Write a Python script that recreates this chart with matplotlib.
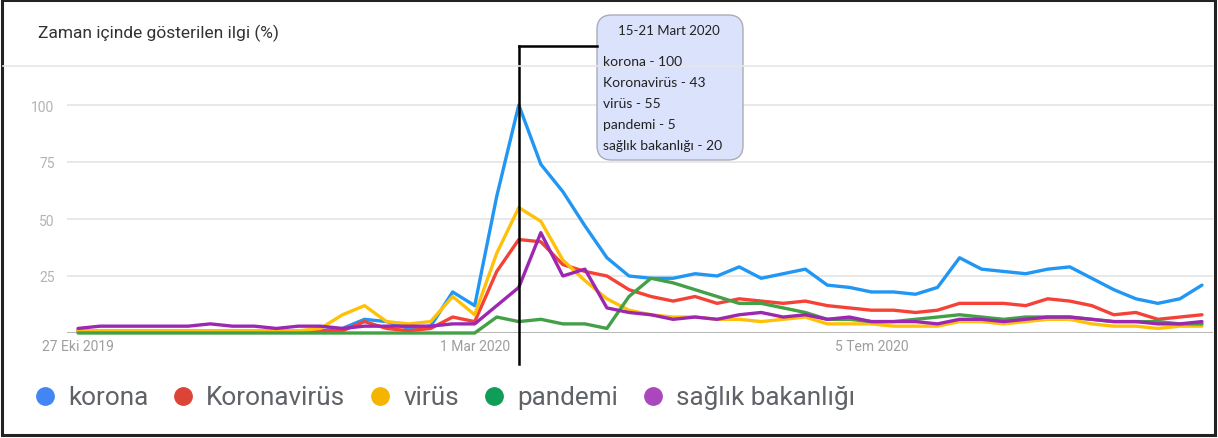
import numpy as np
import pandas as pd
import matplotlib
matplotlib.use("Agg")
import matplotlib.pyplot as plt
from matplotlib.patches import FancyBboxPatch, Rectangle
from matplotlib.lines import Line2D
import matplotlib.transforms as mtransforms

# ---------------- data ----------------
dates = pd.date_range("2019-10-27", periods=52, freq="7D")
series_names = ["korona", "Koronavirüs", "virüs", "pandemi", "sağlık bakanlığı"]

korona = [1, 1, 1, 1, 1, 1, 1, 1, 1, 1, 1, 1,
          2, 6, 5, 2, 3, 18, 12, 60, 100, 74, 62, 47, 33, 25, 24, 24, 26, 25,
          29, 24, 26, 28, 21, 20, 18, 18, 17, 20, 33, 28, 27, 26, 28, 29, 24,
          19, 15, 13, 15, 21]
koronavirus = [1, 1, 1, 1, 1, 1, 1, 1, 1, 1, 1, 1,
               1, 5, 2, 1, 2, 7, 5, 27, 41, 40, 30, 27, 25, 19, 16, 14, 16, 13,
               15, 14, 13, 14, 12, 11, 10, 10, 9, 10, 13, 13, 13, 12, 15, 14, 12,
               8, 9, 6, 7, 8]
virus = [1, 1, 1, 1, 1, 1, 1, 1, 1, 1, 1, 2,
         8, 12, 5, 4, 5, 16, 8, 35, 55, 49, 32, 23, 15, 10, 8, 7, 7, 6,
         6, 5, 6, 7, 4, 4, 4, 3, 3, 3, 5, 5, 4, 5, 6, 6, 4,
         3, 3, 2, 3, 3]
pandemi = [0, 0, 0, 0, 0, 0, 0, 0, 0, 0, 0, 0,
           0, 0, 0, 0, 0, 0, 0, 7, 5, 6, 4, 4, 2, 16, 24, 22, 19, 16,
           13, 13, 11, 9, 6, 6, 5, 5, 6, 7, 8, 7, 6, 7, 7, 7, 6,
           5, 5, 5, 4, 4]
saglik = [2, 3, 3, 3, 3, 3, 4, 3, 3, 2, 3, 3,
          2, 3, 3, 3, 3, 4, 4, 12, 20, 44, 25, 28, 11, 9, 8, 6, 7, 6,
          8, 9, 7, 8, 6, 7, 5, 5, 5, 4, 6, 6, 5, 6, 7, 7, 6,
          5, 5, 4, 4, 5]

x_tick_idx = [0, 18, 36]
x_tick_labels = ["27 Eki 2019", "1 Mar 2020", "5 Tem 2020"]
y_ticks = [25, 50, 75, 100]

title = "Zaman içinde gösterilen ilgi (%)"
tooltip_title = "15-21 Mart 2020"
tooltip_idx = 20
tooltip_lines = ["korona - 100", "Koronavirüs - 43", "virüs - 55",
                 "pandemi - 5", "sağlık bakanlığı - 20"]

line_colors = ["#2196F3", "#F44336", "#FFC107", "#43A047", "#9C27B0"]
legend_colors = ["#4285F4", "#DB4437", "#F4B400", "#0F9D58", "#AB47BC"]

# ---------------- figure ----------------
W, H = 1218, 439
fig = plt.figure(figsize=(W / 100, H / 100), dpi=100)
fig.patch.set_facecolor("white")
plt.rcParams["font.family"] = ["Roboto", "DejaVu Sans"]


def fx(px):
    return px / W


def fy(py):
    return 1 - py / H


ax_left, ax_right, ax_top, ax_bot = 67, 1213, 80, 334
ax = fig.add_axes([fx(ax_left), fy(ax_bot), fx(ax_right - ax_left),
                   (ax_bot - ax_top) / H])
ax.set_xlim(-0.5, 51.5)
ax.set_ylim(0, (ax_bot - ax_top) / 2.28)

all_series = [korona, koronavirus, virus, pandemi, saglik]
x = np.arange(len(dates))
for i, (vals, col) in enumerate(zip(all_series, line_colors)):
    ax.plot(x, vals, color=col, lw=2.4, solid_joinstyle="round",
            solid_capstyle="round", zorder=3 + i, clip_on=False)

for s in ax.spines.values():
    s.set_visible(False)
ax.set_yticks(y_ticks)
ax.set_yticklabels([str(v) for v in y_ticks])
ax.yaxis.grid(True, color="#e8e8e8", lw=1.4)
ax.set_axisbelow(True)
ax.axhline(0, color="#b0b0b0", lw=1.3, zorder=2)
ax.tick_params(axis="y", length=0, pad=9, labelsize=10, labelcolor="#b3b3b3")
ax.set_xticks(x_tick_idx)
ax.set_xticklabels(x_tick_labels)
ax.tick_params(axis="x", length=0, pad=4, labelsize=10, labelcolor="#9e9e9e")
ax.patch.set_alpha(0)

# title + separator
fig.text(fx(38), fy(33), title, fontsize=12.5, color="#333333",
         va="center", ha="left")
fig.add_artist(Line2D([fx(3), fx(1213)], [fy(67), fy(67)], color="#e6e6e6",
                      lw=1.2))

# tooltip marker line
blend = mtransforms.blended_transform_factory(ax.transData, fig.transFigure)
ax.add_line(Line2D([tooltip_idx, tooltip_idx], [fy(365), fy(47)], color="black",
                   lw=1.8, transform=blend, clip_on=False, zorder=20))
xline_px = ax.transData.transform((tooltip_idx, 0))[0]
fig.add_artist(Line2D([fx(xline_px), fx(597)], [fy(47), fy(47)],
                      color="black", lw=1.8))

# tooltip box
bx0, by0, bx1, by1 = 597, 16, 743, 161
box = FancyBboxPatch((fx(bx0), fy(by1)), fx(bx1 - bx0), (by1 - by0) / H,
                     boxstyle="round,pad=0,rounding_size=0.012",
                     transform=fig.transFigure, facecolor="#dbe2fb",
                     edgecolor="#a9adb8", lw=1.0, mutation_aspect=W / H)
fig.add_artist(box)
tip_font = ["Lato", "DejaVu Sans"]
fig.text(fx(669), fy(31), tooltip_title, ha="center", va="center",
         fontsize=9.5, color="#222222", family=tip_font)
for k, t in enumerate(tooltip_lines):
    fig.text(fx(603), fy(62 + 21 * k), t, ha="left", va="center",
             fontsize=10, color="#222222", family=tip_font)

# legend
renderer = fig.canvas.get_renderer()
cx = 45
ly = 397
for name, col in zip(series_names, legend_colors):
    fig.add_artist(Line2D([fx(cx)], [fy(ly)], marker="o", markersize=12.5,
                          color=col, linestyle=""))
    t = fig.text(fx(cx + 23), fy(ly + 1), name, ha="left", va="center",
                 fontsize=18.8, color="#5f6368")
    w = t.get_window_extent(renderer=renderer).width
    cx = cx + 23 + w + 35

# outer frame
fig.add_artist(Rectangle((fx(2), fy(436)), fx(1213), (435) / H,
                         transform=fig.transFigure, fill=False,
                         edgecolor="#222222", lw=2.2))

fig.savefig("out.png", dpi=100)
